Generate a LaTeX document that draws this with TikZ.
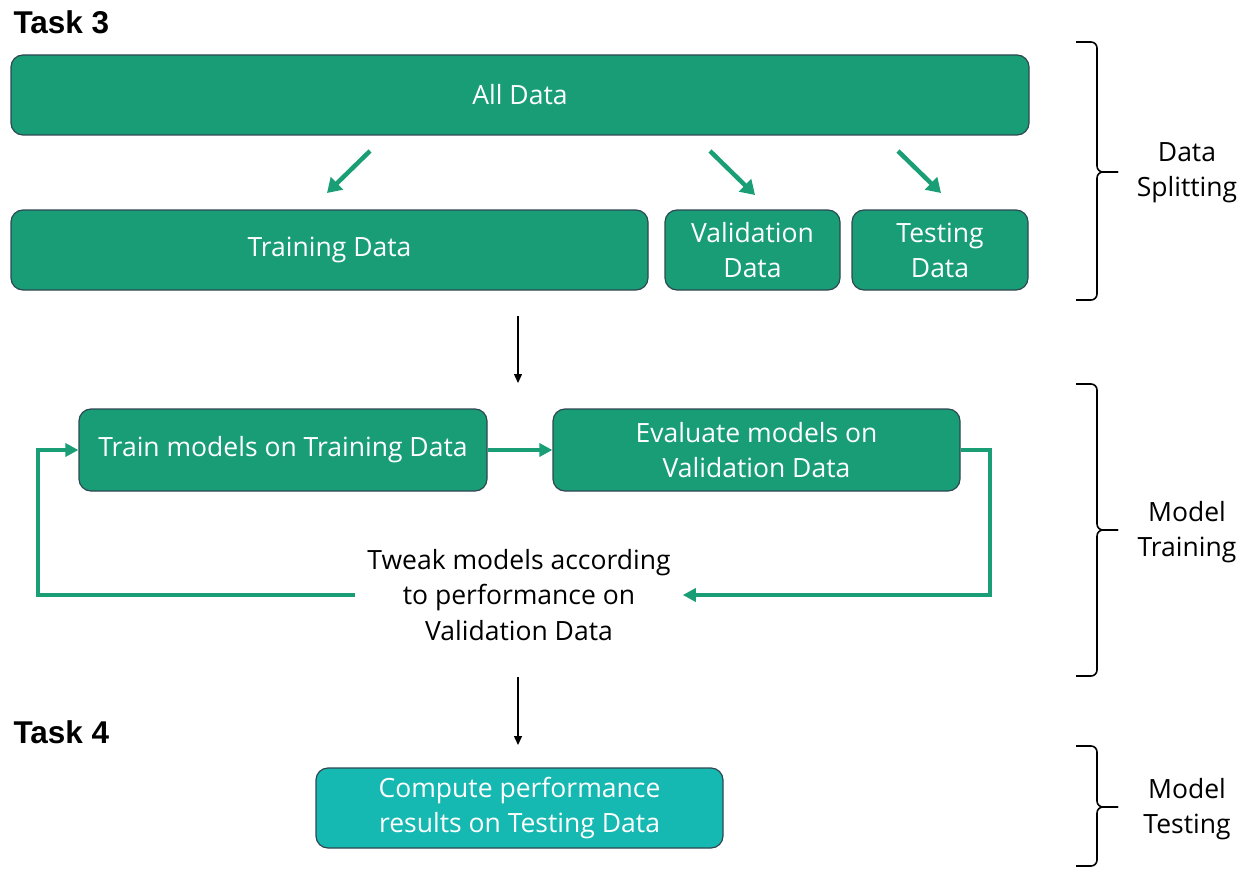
\documentclass[tikz,border=0pt]{standalone}
\usepackage{fontspec}
\setmainfont{Open Sans}
\newfontfamily\taskfont{Liberation Sans}
\usetikzlibrary{arrows.meta,calc}
\definecolor{boxgreen}{RGB}{24,157,119}
\definecolor{boxteal}{RGB}{22,184,178}
\definecolor{boxedge}{RGB}{46,72,82}
\definecolor{linkgreen}{RGB}{26,158,118}
\tikzset{
  stage/.style={draw=boxedge, line width=1.2pt, fill=boxgreen, rounded corners=12pt,
    text=white, font=\fontsize{26.5}{35}\selectfont, align=center, inner sep=0pt},
  split/.style={draw=linkgreen, line width=4.5pt, -{Triangle[length=14pt,width=17pt]}},
  loop/.style={draw=linkgreen, line width=3.5pt, -{Triangle[length=13pt,width=13pt]}},
  flow/.style={draw=black, line width=1.4pt, -{Triangle[length=9pt,width=8pt]}},
  bracket/.style={draw=black, line width=1.6pt, rounded corners=6pt},
  sidelabel/.style={font=\fontsize{26.5}{35}\selectfont, align=center},
  tasklabel/.style={font=\taskfont\bfseries\fontsize{31.5}{36}\selectfont, anchor=west}
}
\begin{document}
\begin{tikzpicture}[x=1pt,y=-1pt]
\useasboundingbox (0,0) rectangle (1249,869);

% headings
\node[tasklabel] (t3) at (10,22) {Task 3};
\node[tasklabel] (t4) at (10,732) {Task 4};

% data splitting
\node[stage, minimum width=1018pt, minimum height=80pt] (all) at (520,95) {All Data};
\node[stage, minimum width=637pt, minimum height=80pt] (train) at (329.5,250) {Training Data};
\node[stage, minimum width=175pt, minimum height=80pt] (val) at (752.5,250) {Validation\\Data};
\node[stage, minimum width=176pt, minimum height=80pt] (test) at (940,250) {Testing\\Data};

\coordinate (s1a) at (370,151); \coordinate (s1b) at (327,193);
\coordinate (s2a) at (710,151); \coordinate (s2b) at (755,195);
\coordinate (s3a) at (898,151); \coordinate (s3b) at (941,193);
\draw[split] (s1a) -- (s1b);
\draw[split] (s2a) -- (s2b);
\draw[split] (s3a) -- (s3b);

% model training
\coordinate (f1a) at (518,316); \coordinate (f1b) at (518,383);
\draw[flow] (f1a) -- (f1b);

\node[stage, minimum width=408pt, minimum height=82pt] (fit) at (283,450) {Train models on Training Data};
\node[stage, minimum width=407pt, minimum height=82pt] (eval) at (756.5,450) {Evaluate models on\\Validation Data};
\node[font=\fontsize{26.5}{35.5}\selectfont, align=center, inner xsep=12pt] (tweak) at (519,595)
  {Tweak models according\\to performance on\\Validation Data};

\coordinate (rc) at (990,0);
\coordinate (lc) at (38,0);
\draw[loop] (fit.east) -- (eval.west);
\draw[loop] (eval.east) -- (rc |- eval.east) |- (tweak.east);
\draw[loop] (tweak.west) -| (lc |- fit.west) -- (fit.west);

% model testing
\coordinate (f2a) at (518,677); \coordinate (f2b) at (518,745);
\draw[flow] (f2a) -- (f2b);
\node[stage, fill=boxteal, minimum width=407pt, minimum height=80pt] (score) at (519.5,808)
  {Compute performance\\results on Testing Data};

% phase brackets
\draw[bracket] (1076,42) -- (1097,42) -- (1097,172) -- (1118,172);
\draw[bracket] (1118,172) -- (1097,172) -- (1097,300) -- (1076,300);
\node[sidelabel] (lab1) at (1187,173) {Data\\Splitting};

\draw[bracket] (1076,384) -- (1097,384) -- (1097,530) -- (1118,530);
\draw[bracket] (1118,530) -- (1097,530) -- (1097,676) -- (1076,676);
\node[sidelabel] (lab2) at (1187,532) {Model\\Training};

\draw[bracket] (1076,746) -- (1097,746) -- (1097,807) -- (1118,807);
\draw[bracket] (1118,807) -- (1097,807) -- (1097,866) -- (1076,866);
\node[sidelabel] (lab3) at (1187,809) {Model\\Testing};
\end{tikzpicture}
\end{document}
